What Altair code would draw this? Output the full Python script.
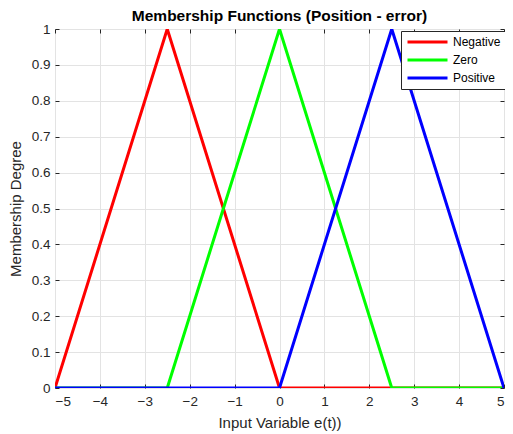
import altair as alt
import pandas as pd

series = ["Negative", "Zero", "Positive"]
colors = ["#ff0000", "#00ff00", "#0000ff"]
neg_x = [-5, -2.5, 0, 5]
neg_y = [0, 1, 0, 0]
zero_x = [-5, -2.5, 0, 2.5, 5]
zero_y = [0, 0, 1, 0, 0]
pos_x = [-5, 0, 2.5, 5]
pos_y = [0, 0, 1, 0]
x_ticks = [-5, -4, -3, -2, -1, 0, 1, 2, 3, 4, 5]
y_ticks = [0, 0.1, 0.2, 0.3, 0.4, 0.5, 0.6, 0.7, 0.8, 0.9, 1]

def frame(name, xs, ys):
    return pd.DataFrame({"x": xs, "y": ys, "series": name, "i": range(len(xs))})

dfs = [frame("Negative", neg_x, neg_y), frame("Zero", zero_x, zero_y), frame("Positive", pos_x, pos_y)]

FONT = "Liberation Sans"
W, H = 449, 359
xs = alt.Scale(domain=[-5, 5], nice=False, zero=False)
ys = alt.Scale(domain=[0, 1], nice=False)
cs = alt.Scale(domain=series, range=colors)

legend = alt.Legend(
    title=None, orient="none", legendX=W - 103, legendY=2,
    symbolType="stroke", symbolSize=1600, symbolStrokeWidth=3,
    labelFont=FONT, labelFontSize=12, labelColor="#000000",
    fillColor="white", strokeColor="#262626", padding=5,
    clipHeight=12, rowPadding=6, labelOffset=4, symbolOffset=0,
)

axis_common = dict(tickSize=4, tickColor="#262626", domain=False, labelFont=FONT,
                   labelFontSize=13.5, labelColor="#262626", titleFont=FONT,
                   titleFontSize=15, titleColor="#262626", titleFontWeight="normal",
                   gridColor="#e3e3e3", gridWidth=1)

x_bottom = alt.Axis(orient="bottom", values=x_ticks, offset=-4, labelPadding=6,
                    title="Input Variable e(t))", titlePadding=8, grid=True, format="~g",
                    **axis_common)
y_left = alt.Axis(orient="left", values=y_ticks, offset=-4, labelPadding=5,
                  title="Membership Degree", titlePadding=8, grid=True, format="~g",
                  **axis_common)
x_top = alt.Axis(orient="top", values=x_ticks, offset=-4, labels=False, title=None,
                 grid=False, **axis_common)
y_right = alt.Axis(orient="right", values=y_ticks, offset=-4, labels=False, title=None,
                   grid=False, **axis_common)

def layer(df, xa, ya):
    return alt.Chart(df).mark_line(strokeWidth=3, clip=True).encode(
        x=alt.X("x:Q", scale=xs, axis=xa),
        y=alt.Y("y:Q", scale=ys, axis=ya),
        color=alt.Color("series:N", scale=cs, legend=legend),
        order="i:Q",
    )

chart = alt.layer(
    layer(dfs[0], x_bottom, y_left),
    layer(dfs[1], x_top, y_right),
    layer(dfs[2], None, None),
).resolve_axis(x="independent", y="independent").properties(
    width=W, height=H,
    title=alt.TitleParams("Membership Functions (Position - error)", font=FONT,
                          fontSize=15.5, fontWeight="bold", color="#000000",
                          anchor="middle", offset=-2),
    autosize=alt.AutoSizeParams(type="none"),
    padding={"left": 47, "top": 21, "right": 1, "bottom": 44},
).configure_view(stroke="#262626", strokeWidth=1).configure(background="white")

chart.save("out.html", embed_options={"renderer": "svg", "actions": False})
